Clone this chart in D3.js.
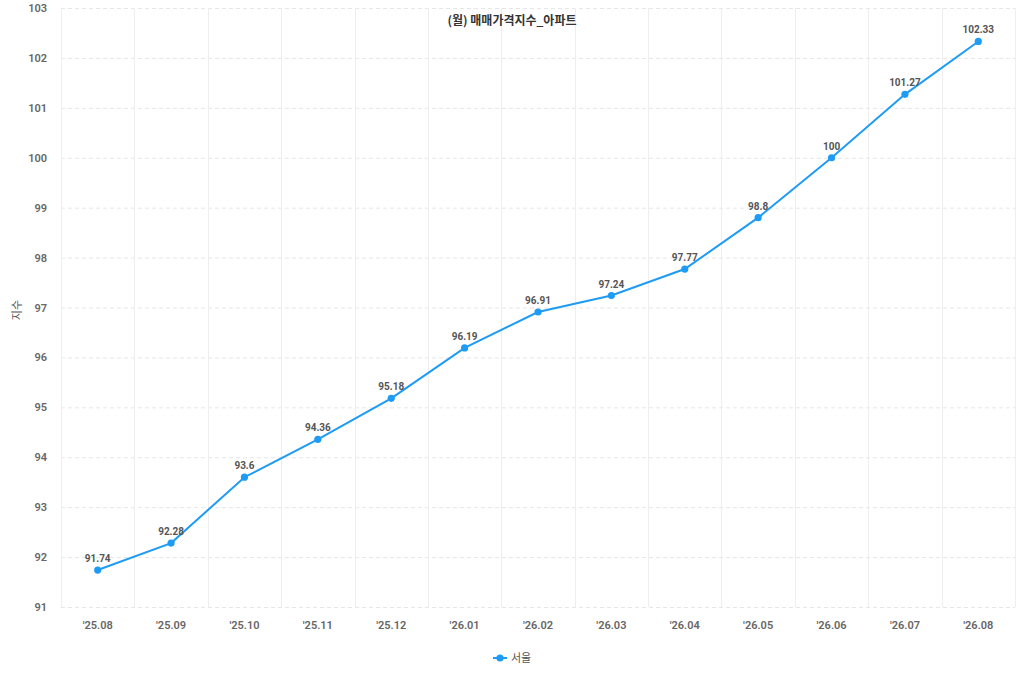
<!DOCTYPE html>
<html><head><meta charset="utf-8">
<script src="https://cdn.jsdelivr.net/npm/d3@7"></script>
<style>
html,body{margin:0;padding:0;background:#fff;}
svg{display:block;font-family:Roboto,"Noto Sans CJK KR",sans-serif;}
</style></head><body>
<svg id="chart" width="1024" height="683"></svg>
<script>
const categories = ["'25.08","'25.09","'25.10","'25.11","'25.12","'26.01","'26.02","'26.03","'26.04","'26.05","'26.06","'26.07","'26.08"];
const seoulValues = [91.74,92.28,93.6,94.36,95.18,96.19,96.91,97.24,97.77,98.8,100,101.27,102.33];
const yTicks = [91,92,93,94,95,96,97,98,99,100,101,102,103];
const seriesName = "서울";
const chartTitle = "(월) 매매가격지수_아파트";
const yTitle = "지수";

const svg = d3.select("#chart");
const m = {left:61, right:1015, top:8, bottom:607};
const color = "#1e9bf5";

const x = d3.scaleBand().domain(categories).range([m.left, m.right]);
const y = d3.scaleLinear().domain([91,103]).range([m.bottom, m.top]);

// horizontal dashed grid
svg.append("g").selectAll("line").data(yTicks).join("line")
  .attr("x1", m.left).attr("x2", m.right)
  .attr("y1", d=>y(d)+0.5).attr("y2", d=>y(d)+0.5)
  .attr("stroke", "#e6e6e6").attr("stroke-dasharray","4,3");
// vertical grid at band boundaries
const bounds = categories.map(c=>x(c)).concat([m.right]);
svg.append("g").selectAll("line").data(bounds).join("line")
  .attr("x1", d=>Math.round(d)+0.5).attr("x2", d=>Math.round(d)+0.5)
  .attr("y1", m.top).attr("y2", m.bottom)
  .attr("stroke", "#eeeeee");

// y axis
const yAxis = d3.axisLeft(y).tickValues(yTicks).tickSize(0).tickPadding(14);
const gy = svg.append("g").attr("transform",`translate(${m.left},0)`).call(yAxis);
gy.select(".domain").remove();
gy.selectAll("text").attr("fill","#666").attr("font-size","11px").attr("font-weight","600").attr("font-family","Roboto");

// x axis
const xAxis = d3.axisBottom(x).tickSize(0).tickPadding(14);
const gx = svg.append("g").attr("transform",`translate(0,${m.bottom})`).call(xAxis);
gx.select(".domain").remove();
gx.selectAll("text").attr("fill","#666").attr("font-size","11px").attr("font-weight","600").attr("font-family","Roboto");

// line
const cx = d=>x(d)+x.bandwidth()/2;
const line = d3.line().x((d,i)=>cx(categories[i])).y(d=>y(d));
svg.append("path").datum(seoulValues).attr("d", line)
  .attr("fill","none").attr("stroke",color).attr("stroke-width",2);
svg.append("g").selectAll("circle").data(seoulValues).join("circle")
  .attr("cx",(d,i)=>cx(categories[i])).attr("cy",d=>y(d)).attr("r",3.6).attr("fill",color);
svg.append("g").selectAll("text").data(seoulValues).join("text")
  .attr("x",(d,i)=>cx(categories[i])).attr("y",d=>y(d)-8)
  .attr("text-anchor","middle").attr("font-size","10px").attr("font-weight","700")
  .attr("fill","#555").text(d=>d);

// title
svg.append("text").attr("x",512).attr("y",25).attr("text-anchor","middle")
  .attr("font-size","12px").attr("font-weight","700").attr("fill","#333")
  .attr("font-family","'Noto Sans CJK KR',sans-serif").text(chartTitle);

// y title
svg.append("text").attr("transform","translate(21,310) rotate(-90)").attr("text-anchor","middle")
  .attr("font-size","11px").attr("fill","#555")
  .attr("font-family","'Noto Sans CJK KR',sans-serif").text(yTitle);

// legend
const lg = svg.append("g").attr("transform","translate(493,658)");
lg.append("line").attr("x1",0).attr("x2",14).attr("y1",0).attr("y2",0).attr("stroke",color).attr("stroke-width",2);
lg.append("circle").attr("cx",7).attr("cy",0).attr("r",3.6).attr("fill",color);
lg.append("text").attr("x",18).attr("y",4).attr("font-size","11px").attr("fill","#555")
  .attr("font-family","'Noto Sans CJK KR',sans-serif").text(seriesName);
</script></body></html>
